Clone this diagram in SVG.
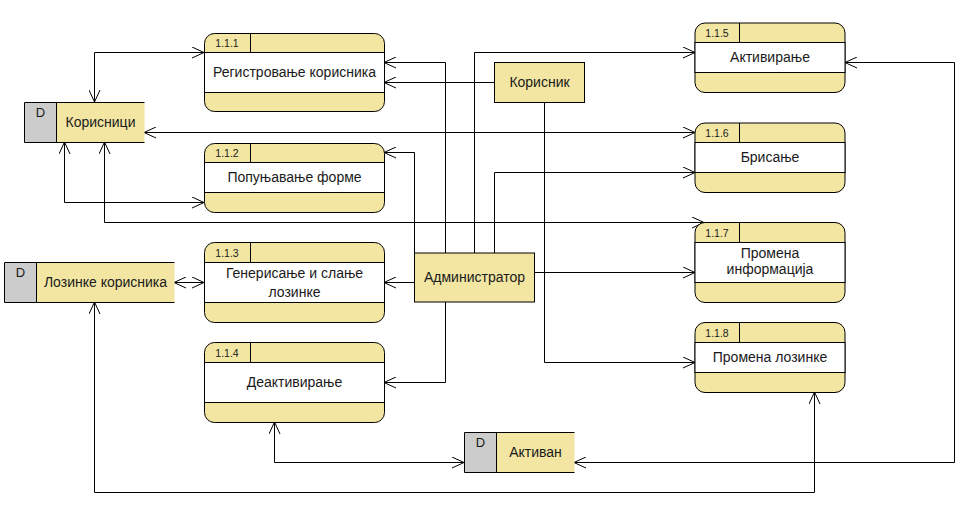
<svg xmlns="http://www.w3.org/2000/svg" width="965" height="513" viewBox="0 0 965 513">
<defs>
<marker id="arr" viewBox="0 0 12 12" refX="12" refY="6" markerWidth="12" markerHeight="12" markerUnits="userSpaceOnUse" orient="auto-start-reverse">
<path d="M0,0.5 L12,6 L0,11.5" fill="none" stroke="#000" stroke-width="1"/>
</marker>
<style>
.bg{fill:#ffffff}
.box{fill:#F2E6A2;stroke:#000;stroke-width:1}
.mid{fill:#ffffff;stroke:#000;stroke-width:1}
.ln{stroke:#000;stroke-width:1;fill:none}
.gray{fill:#CCCCCC}
.yel{fill:#F2E6A2}
.t{font-family:"Liberation Sans",Arial,sans-serif;font-size:14px;fill:#1a1a1a;text-anchor:middle}
.n{font-family:"Liberation Sans",Arial,sans-serif;font-size:10.5px;fill:#1a1a1a;text-anchor:middle}
.d{font-family:"Liberation Sans",Arial,sans-serif;font-size:13px;fill:#1a1a1a;text-anchor:middle}
.c{fill:none;stroke:#000;stroke-width:1}
.c2{fill:none;stroke:#000;stroke-width:1;marker-end:url(#arr)}
.cb{fill:none;stroke:#000;stroke-width:1;marker-start:url(#arr);marker-end:url(#arr)}
</style>
</defs>
<rect class="bg" x="0" y="0" width="965" height="513"/>

<g id="connectors">
<path class="cb" d="M94.5,102 V52.5 H204"/>
<path class="c2" d="M445.5,253 V62.5 H384"/>
<path class="c2" d="M494,82.5 H384"/>
<path class="cb" d="M144,132.5 H695"/>
<path class="c2" d="M414.5,253 V152.5 H384"/>
<path class="cb" d="M64.5,142 V202.5 H204"/>
<path class="cb" d="M104.5,142 V222.5 H704"/>
<path class="cb" d="M174,282.5 H204"/>
<path class="c2" d="M414,282.5 H384"/>
<path class="c2" d="M445.5,302 V382.5 H384"/>
<path class="c2" d="M474.5,253 V52.5 H695"/>
<path class="c2" d="M494.5,253 V172.5 H695"/>
<path class="c2" d="M535,272.5 H695"/>
<path class="c2" d="M544.5,102 V362.5 H695"/>
<path class="cb" d="M274.5,422 V462.5 H464"/>
<path class="cb" d="M845,62.5 H954.5 V462.5 H574"/>
<path class="cb" d="M94.5,302 V492.5 H814.5 V392"/>
</g>

<g id="p111">
<rect class="box" x="204.5" y="33.5" width="180" height="78" rx="10"/>
<rect class="mid" x="204.5" y="52.5" width="180" height="40"/>
<line class="ln" x1="250.5" y1="33.5" x2="250.5" y2="52.5"/>
<text class="n" x="227" y="47">1.1.1</text>
<text class="t" x="294.5" y="77">Регистровање корисника</text>
</g>

<g id="p112">
<rect class="box" x="204.5" y="143.5" width="180" height="69" rx="10"/>
<rect class="mid" x="204.5" y="162.5" width="180" height="30"/>
<line class="ln" x1="250.5" y1="143.5" x2="250.5" y2="162.5"/>
<text class="n" x="227" y="157">1.1.2</text>
<text class="t" x="294.5" y="182">Попуњавање форме</text>
</g>

<g id="p113">
<rect class="box" x="204.5" y="242.5" width="180" height="80" rx="10"/>
<rect class="mid" x="204.5" y="262.5" width="180" height="40"/>
<line class="ln" x1="250.5" y1="242.5" x2="250.5" y2="262.5"/>
<text class="n" x="227" y="256.5">1.1.3</text>
<text class="t" x="294.5" y="278">Генерисање и слање</text>
<text class="t" x="294.5" y="297">лозинке</text>
</g>

<g id="p114">
<rect class="box" x="204.5" y="342.5" width="180" height="80" rx="10"/>
<rect class="mid" x="204.5" y="362.5" width="180" height="40"/>
<line class="ln" x1="250.5" y1="342.5" x2="250.5" y2="362.5"/>
<text class="n" x="227" y="356.5">1.1.4</text>
<text class="t" x="294.5" y="387">Деактивирање</text>
</g>

<g id="p115">
<rect class="box" x="695" y="23" width="150" height="69.5" rx="10"/>
<rect class="mid" x="695" y="42.5" width="150" height="30"/>
<line class="ln" x1="739.5" y1="23" x2="739.5" y2="42.5"/>
<text class="n" x="717" y="36.5">1.1.5</text>
<text class="t" x="770" y="62">Активирање</text>
</g>

<g id="p116">
<rect class="box" x="695" y="123" width="150" height="69.5" rx="10"/>
<rect class="mid" x="695" y="142.5" width="150" height="30"/>
<line class="ln" x1="739.5" y1="123" x2="739.5" y2="142.5"/>
<text class="n" x="717" y="136.5">1.1.6</text>
<text class="t" x="770" y="162">Брисање</text>
</g>

<g id="p117">
<rect class="box" x="695" y="222.5" width="150" height="80" rx="10"/>
<rect class="mid" x="695" y="242.5" width="150" height="40"/>
<line class="ln" x1="739.5" y1="222.5" x2="739.5" y2="242.5"/>
<text class="n" x="717" y="236.5">1.1.7</text>
<text class="t" x="770" y="258">Промена</text>
<text class="t" x="770" y="274">информација</text>
</g>

<g id="p118">
<rect class="box" x="695" y="322.5" width="150" height="70" rx="10"/>
<rect class="mid" x="695" y="342.5" width="150" height="30"/>
<line class="ln" x1="739.5" y1="322.5" x2="739.5" y2="342.5"/>
<text class="n" x="717" y="336.5">1.1.8</text>
<text class="t" x="770" y="362">Промена лозинке</text>
</g>

<g id="korisnik">
<rect class="box" x="494.5" y="62.5" width="90" height="40"/>
<text class="t" x="539.5" y="87">Корисник</text>
</g>

<g id="administrator">
<rect class="box" x="414.5" y="253" width="120" height="49"/>
<text class="t" x="474.5" y="282">Администратор</text>
</g>

<g id="ds-korisnici">
<rect class="yel" x="24.5" y="102.5" width="120" height="40"/>
<rect class="gray" x="24.5" y="102.5" width="32" height="40"/>
<path class="ln" d="M144.5,102.5 H24.5 V142.5 H144.5 M56.5,102.5 V142.5"/>
<text class="d" x="40.5" y="117">D</text>
<text class="t" x="100.5" y="127">Корисници</text>
</g>

<g id="ds-lozinke">
<rect class="yel" x="4.5" y="262.5" width="170" height="40"/>
<rect class="gray" x="4.5" y="262.5" width="32" height="40"/>
<path class="ln" d="M174.5,262.5 H4.5 V302.5 H174.5 M36.5,262.5 V302.5"/>
<text class="d" x="20.5" y="277">D</text>
<text class="t" x="105.5" y="287">Лозинке корисника</text>
</g>

<g id="ds-aktivan">
<rect class="yel" x="464.5" y="432.5" width="110" height="40"/>
<rect class="gray" x="464.5" y="432.5" width="32" height="40"/>
<path class="ln" d="M574.5,432.5 H464.5 V472.5 H574.5 M496.5,432.5 V472.5"/>
<text class="d" x="480.5" y="447">D</text>
<text class="t" x="535.5" y="457">Активан</text>
</g>
</svg>
